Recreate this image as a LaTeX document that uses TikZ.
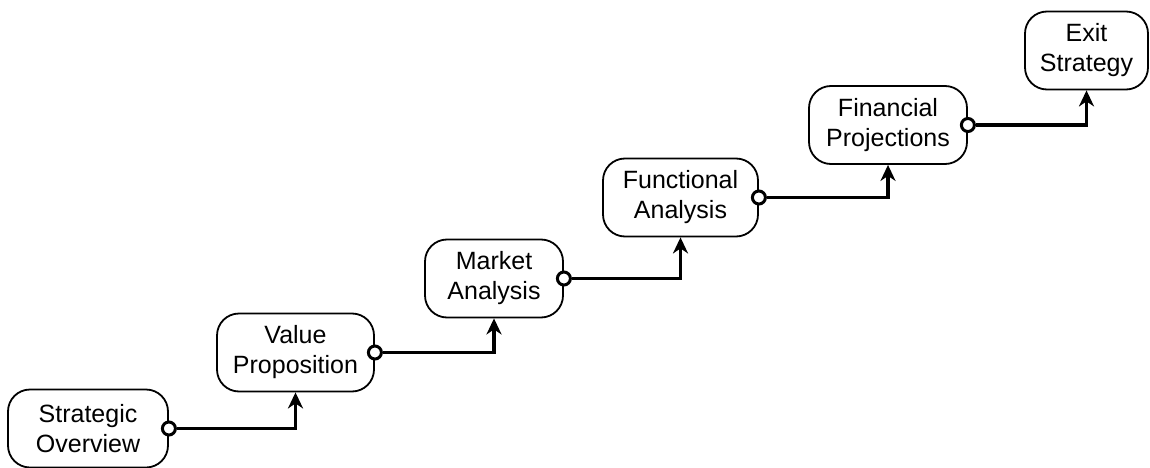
\documentclass[tikz,border=0pt]{standalone}
\usepackage{fontspec}
\setmainfont{Liberation Sans}
\usetikzlibrary{arrows.meta}
\tikzstyle{stage} = [draw=black, line width=1.8pt, rounded corners=22pt, minimum height=78pt, align=center, inner sep=0pt]
\tikzstyle{knob} = [circle, draw=black, fill=white, line width=3pt, minimum size=13pt, inner sep=0pt]
\tikzstyle{link} = [line width=3.6pt, -{Stealth[length=16pt,width=15pt,inset=5pt]}]

\begin{document}
\begin{tikzpicture}[
  x=1pt, y=-1pt,
  every node/.style={font=\fontsize{25pt}{30pt}\selectfont},
]
\useasboundingbox (0,0) rectangle (1150,468);

\node[stage, minimum width=160pt] (so) at (88,428.5) {Strategic\\Overview};
\node[stage, minimum width=157pt] (vp) at (295.5,352.5) {Value\\Proposition};
\node[stage, minimum width=138pt] (ma) at (494,278.5) {Market\\Analysis};
\node[stage, minimum width=155pt] (fa) at (680.5,197.5) {Functional\\Analysis};
\node[stage, minimum width=158pt] (fp) at (888,125) {Financial\\Projections};
\node[stage, minimum width=123pt] (es) at (1086.5,50.5) {Exit\\Strategy};

\node[knob] (so-o) at (so.east) {};
\node[knob] (vp-o) at (vp.east) {};
\node[knob] (ma-o) at (ma.east) {};
\node[knob] (fa-o) at (fa.east) {};
\node[knob] (fp-o) at (fp.east) {};

\draw[link] (so-o) -| (vp);
\draw[link] (vp-o) -| (ma);
\draw[link] (ma-o) -| (fa);
\draw[link] (fa-o) -| (fp);
\draw[link] (fp-o) -| (es);

\end{tikzpicture}
\end{document}
